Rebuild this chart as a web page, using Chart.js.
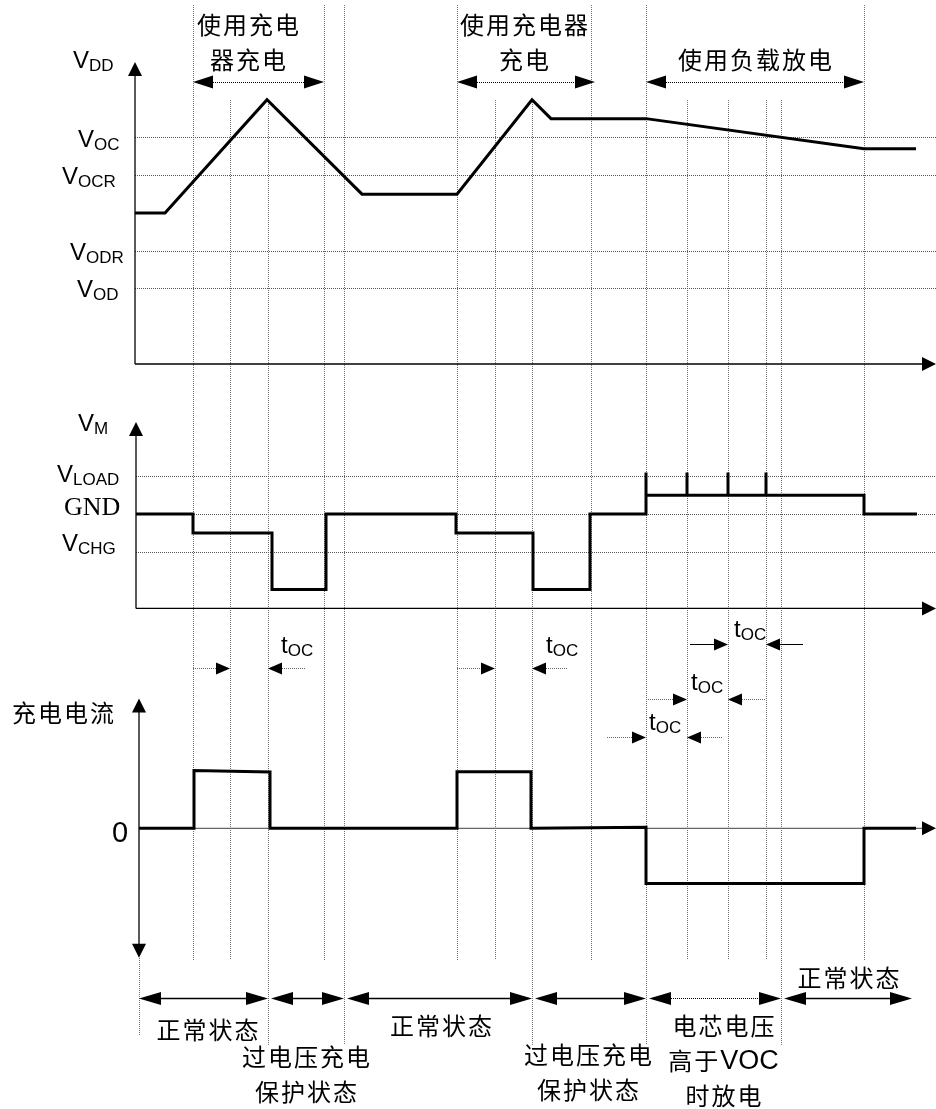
<!DOCTYPE html>
<html>
<head>
<meta charset="utf-8">
<script src="https://cdn.jsdelivr.net/npm/chart.js@4.4.0/dist/chart.umd.min.js"></script>
<style>
  html, body { margin: 0; padding: 0; background: #fff; }
  #wrap { width: 936px; height: 1109px; }
</style>
</head>
<body>
<div id="wrap"><canvas id="timingChart" width="936" height="1109"></canvas></div>
<script>
// time = offset from the V_DD axis (arbitrary units), levels in grid units
var guideTimes = [58, 95, 133, 189, 209, 322, 360, 397, 456, 511, 552, 593, 631, 646, 729];
var guideFromTop = [58, 189, 209, 322, 456, 511, 729];
var guideToBottom = [133, 209, 397, 511, 646];

// V_DD
var vddT = [0, 30, 132, 227, 322, 397, 416, 511, 729, 781];
var vddV = [4, 4, 7, 4.5, 4.5, 7, 6.5, 6.5, 5.7, 5.7];
var vddLevels = [6, 5, 3, 2]; // VOC, VOCR, VODR, VOD

// V_M
var vmT = [1, 58, 58, 137, 137, 191, 191, 321, 321, 398, 398, 455, 455, 511, 511, 511, 552, 552, 552, 593, 593, 593, 631, 631, 631, 729, 729, 782];
var vmV = [0, 0, -0.5, -0.5, -2, -2, 0, 0, -0.5, -0.5, -2, -2, 0, 0, 1.1, 0.5, 0.5, 1.1, 0.5, 0.5, 1.1, 0.5, 0.5, 1.1, 0.5, 0.5, 0, 0];
var vmLevels = [1, 0, -1]; // VLOAD, GND, VCHG

// 充电电流
var curT = [4, 59, 59, 135, 135, 322, 322, 396, 396, 511, 511, 729, 729, 781];
var curV = [0, 0, 1.53, 1.49, 0, 0, 1.5, 1.5, 0, 0.03, -1.46, -1.46, 0, 0];

// phases along the bottom
var phaseBounds = [4, 133, 209, 397, 511, 646, 777];
var phaseNames = [["正常状态"], ["过电压充电", "保护状态"], ["正常状态"], ["过电压充电", "保护状态"], ["电芯电压", "高于VOC", "时放电"], ["正常状态"]];

// spans along the top
var spanStart = [58, 322, 511];
var spanEnd = [189, 460, 729];
var spanNames = [["使用充电", "器充电"], ["使用充电器", "充电"], ["使用负载放电"]];

var H = 1109, UNIT = 37.75;
var CJK = '"Noto Sans CJK SC", sans-serif';
var SANS = '"Liberation Sans", Arial, sans-serif';

function pts(ts, vs) {
  return ts.map(function (t, i) { return { x: t, y: vs[i] }; });
}
function band(zeroPx) {
  return { type: "linear", display: false, min: (zeroPx - H) / UNIT, max: zeroPx / UNIT };
}
function seg(ctx, x1, y1, x2, y2) {
  ctx.beginPath(); ctx.moveTo(x1, y1); ctx.lineTo(x2, y2); ctx.stroke();
}
function head(ctx, x, y, dir, len, half) {
  ctx.beginPath();
  ctx.moveTo(x, y);
  if (dir === "r") { ctx.lineTo(x - len, y - half); ctx.lineTo(x - len, y + half); }
  if (dir === "l") { ctx.lineTo(x + len, y - half); ctx.lineTo(x + len, y + half); }
  if (dir === "u") { ctx.lineTo(x - half, y + len); ctx.lineTo(x + half, y + len); }
  if (dir === "d") { ctx.lineTo(x - half, y - len); ctx.lineTo(x + half, y - len); }
  ctx.closePath(); ctx.fill();
}
function vText(ctx, main, sub, x, base) {
  ctx.textAlign = "left"; ctx.textBaseline = "alphabetic";
  ctx.font = "24px " + SANS;
  ctx.fillText(main, x, base);
  var w = ctx.measureText(main).width;
  ctx.font = "17px " + SANS;
  ctx.fillText(sub, x + w, base + 3);
}
function cjk(ctx, text, cx, cy) {
  ctx.font = "24px " + CJK;
  ctx.letterSpacing = "2px";
  ctx.textAlign = "center"; ctx.textBaseline = "middle";
  if (text.indexOf("VOC") >= 0) {
    var a = text.replace("VOC", "");
    var wa = ctx.measureText(a).width;
    ctx.letterSpacing = "0px";
    ctx.font = "27px " + SANS;
    var wb = ctx.measureText("VOC").width;
    var left = cx - (wa + wb) / 2;
    ctx.textAlign = "left";
    ctx.fillText("VOC", left + wa, cy + 1);
    ctx.font = "24px " + CJK;
    ctx.letterSpacing = "2px";
    ctx.fillText(a, left, cy);
  } else {
    ctx.fillText(text, cx + 1, cy);
  }
  ctx.letterSpacing = "0px";
}

var timingDiagram = {
  id: "timingDiagram",
  beforeDatasetsDraw: function (chart) {
    var ctx = chart.ctx, x = chart.scales.x, yV = chart.scales.yV, yM = chart.scales.yM, yI = chart.scales.yI;
    var right = x.getPixelForValue(801);
    ctx.save();
    // dotted guides
    ctx.strokeStyle = "#707070"; ctx.lineWidth = 1; ctx.setLineDash([1, 1]);
    guideTimes.forEach(function (t) {
      var px = Math.round(x.getPixelForValue(t)) + 0.5;
      var top = guideFromTop.indexOf(t) >= 0 ? 5 : 100;
      var bottom = guideToBottom.indexOf(t) >= 0 ? 1045 : 960;
      seg(ctx, px, top, px, bottom);
    });
    seg(ctx, Math.round(x.getPixelForValue(4)) + 0.5, 958, Math.round(x.getPixelForValue(4)) + 0.5, 1036);
    // level lines
    ctx.strokeStyle = "#555";
    vddLevels.forEach(function (v) {
      var py = Math.round(yV.getPixelForValue(v)) + 0.5;
      seg(ctx, x.getPixelForValue(0), py, right, py);
    });
    vmLevels.forEach(function (v) {
      var py = Math.round(yM.getPixelForValue(v)) + 0.5;
      seg(ctx, x.getPixelForValue(1), py, right, py);
    });
    ctx.setLineDash([]);
    // zero line of the current panel
    ctx.strokeStyle = "#666"; ctx.lineWidth = 1.2;
    var z = yI.getPixelForValue(0);
    seg(ctx, x.getPixelForValue(4), z, right - 10, z);
    // axes
    ctx.strokeStyle = "#000"; ctx.fillStyle = "#000"; ctx.lineWidth = 1.3;
    var ax = x.getPixelForValue(0), b = yV.getPixelForValue(0);
    seg(ctx, ax, b, ax, yV.getPixelForValue(8) + 8); head(ctx, ax, yV.getPixelForValue(8), "u", 14, 7);
    seg(ctx, ax, b, right - 8, b); head(ctx, right, b, "r", 14, 7);
    ax = x.getPixelForValue(1); b = yM.getPixelForValue(-2.5);
    seg(ctx, ax, b, ax, yM.getPixelForValue(2.44) + 8); head(ctx, ax, yM.getPixelForValue(2.44), "u", 14, 7);
    seg(ctx, ax, b, right - 8, b); head(ctx, right, b, "r", 14, 7);
    head(ctx, right, z, "r", 14, 7);
    ax = x.getPixelForValue(4);
    seg(ctx, ax, yI.getPixelForValue(3.44) + 8, ax, yI.getPixelForValue(-3.43) - 8);
    head(ctx, ax, yI.getPixelForValue(3.44), "u", 14, 7);
    head(ctx, ax, yI.getPixelForValue(-3.43), "d", 14, 7);
    ctx.restore();
  },
  afterDatasetsDraw: function (chart) {
    var ctx = chart.ctx, x = chart.scales.x;
    ctx.save();
    ctx.fillStyle = "#000"; ctx.strokeStyle = "#000";

    // left labels
    vText(ctx, "V", "DD", 73, 68);
    vText(ctx, "V", "OC", 78, 147);
    vText(ctx, "V", "OCR", 62, 184);
    vText(ctx, "V", "ODR", 70, 260);
    vText(ctx, "V", "OD", 77, 297);
    vText(ctx, "V", "M", 78, 431);
    vText(ctx, "V", "LOAD", 57, 482);
    vText(ctx, "V", "CHG", 62, 551);
    ctx.font = "26px \"Liberation Serif\", serif";
    ctx.fillText("GND", 64, 515);
    ctx.font = "29px " + SANS;
    ctx.fillText("0", 112, 842);
    ctx.font = "24px " + CJK; ctx.letterSpacing = "2px";
    ctx.textBaseline = "middle";
    ctx.fillText("充电电流", 12, 713);
    ctx.letterSpacing = "0px";

    // top spans
    var spanCenter = [113, 389, 620];
    spanStart.forEach(function (t, i) {
      var a = x.getPixelForValue(t), c = x.getPixelForValue(spanEnd[i]), y = 82;
      head(ctx, a, y, "l", 20, 6.5); head(ctx, c, y, "r", 20, 6.5);
      ctx.lineWidth = 1; ctx.setLineDash([1, 1]);
      seg(ctx, a + 20, y + 0.5, c - 20, y + 0.5);
      ctx.setLineDash([]);
      var lines = spanNames[i];
      var cx = x.getPixelForValue(spanCenter[i]);
      if (lines.length === 2) { cjk(ctx, lines[0], cx, 25); cjk(ctx, lines[1], cx, 60); }
      else cjk(ctx, lines[0], cx, 60);
    });

    // t_OC markers
    var tocMarks = [
      { y: 668, from: 58, to: 95, back: 133, tail: 170, label: 146, base: 653, solid: false },
      { y: 668, from: 322, to: 360, back: 397, tail: 433, label: 411, base: 653, solid: false },
      { y: 644, from: 555, to: 593, back: 631, tail: 668, label: 599, base: 637, solid: true },
      { y: 699, from: 513, to: 552, back: 593, tail: 630, label: 556, base: 690, solid: false },
      { y: 737, from: 472, to: 511, back: 552, tail: 588, label: 514, base: 730, solid: false }
    ];
    tocMarks.forEach(function (m) {
      var a = x.getPixelForValue(m.from), b = x.getPixelForValue(m.to);
      var c = x.getPixelForValue(m.back), d = x.getPixelForValue(m.tail);
      ctx.lineWidth = 1;
      ctx.strokeStyle = m.solid ? "#000" : "#666";
      ctx.setLineDash(m.solid ? [] : [1, 1]);
      seg(ctx, a, m.y + 0.5, b - 12, m.y + 0.5);
      seg(ctx, c + 12, m.y + 0.5, d, m.y + 0.5);
      ctx.setLineDash([]);
      head(ctx, b, m.y + 0.5, "r", 14, 6);
      head(ctx, c, m.y + 0.5, "l", 14, 6);
      vText(ctx, "t", "OC", x.getPixelForValue(m.label), m.base);
    });

    // bottom phases
    ctx.strokeStyle = "#000";
    var phaseY = [1030, 1057, 1026, 1055, 1026, 978];
    var phaseShift = [4, 0, 3, -1, 10, 2];
    for (var i = 0; i < phaseNames.length; i++) {
      var l = x.getPixelForValue(phaseBounds[i]) + (i > 0 ? 3 : 0);
      var r = x.getPixelForValue(phaseBounds[i + 1]);
      var y = 998.5;
      head(ctx, l, y, "l", 22, 6.5); head(ctx, r, y, "r", 22, 6.5);
      ctx.lineWidth = i === 4 ? 1 : 1.5;
      ctx.setLineDash(i === 4 ? [1, 1] : []);
      seg(ctx, l + 20, y, r - 20, y);
      ctx.setLineDash([]);
      var cx = (x.getPixelForValue(phaseBounds[i]) + x.getPixelForValue(phaseBounds[i + 1])) / 2 + phaseShift[i];
      phaseNames[i].forEach(function (txt, k) { cjk(ctx, txt, cx, phaseY[i] + k * 35); });
    }
    ctx.restore();
  }
};

var ctx = document.getElementById("timingChart").getContext("2d");
var timingChart = new Chart(ctx, {
  type: "line",
  data: {
    datasets: [
      { label: "VDD", data: pts(vddT, vddV), yAxisID: "yV" },
      { label: "VM", data: pts(vmT, vmV), yAxisID: "yM" },
      { label: "充电电流", data: pts(curT, curV), yAxisID: "yI" }
    ]
  },
  options: {
    responsive: false,
    animation: false,
    layout: { padding: 0 },
    elements: {
      point: { radius: 0, hoverRadius: 0 },
      line: { borderColor: "#000", borderWidth: 3, tension: 0, fill: false, borderJoinStyle: "miter", borderCapStyle: "butt" }
    },
    plugins: { legend: { display: false }, tooltip: { enabled: false }, title: { display: false } },
    events: [],
    scales: {
      x: { type: "linear", display: false, min: -135, max: 801 },
      yV: band(364),
      yM: band(514),
      yI: band(828.3)
    }
  },
  plugins: [timingDiagram]
});
</script>
</body>
</html>
